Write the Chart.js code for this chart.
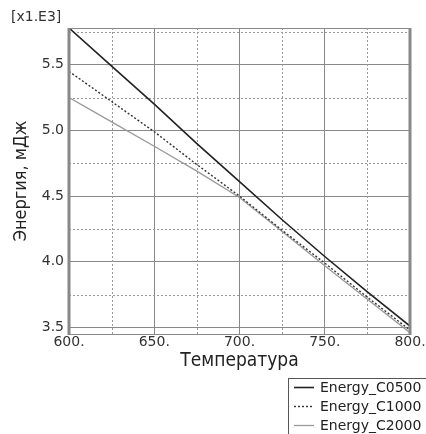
<!DOCTYPE html>
<html>
<head>
<meta charset="utf-8">
<script src="https://cdn.jsdelivr.net/npm/chart.js@4"></script>
<style>
  html, body { margin: 0; padding: 0; background: #fff; }
</style>
</head>
<body>
<canvas id="energy-chart" width="426" height="434"></canvas>
<script>
const temps = [600, 625, 650, 675, 700, 725, 750, 775, 800];
const energyC0500 = [5.78, 5.49, 5.20, 4.90, 4.61, 4.32, 4.04, 3.77, 3.51];
const energyC1000 = [5.45, 5.22, 4.99, 4.74, 4.50, 4.24, 3.99, 3.73, 3.48];
const energyC2000 = [5.25, 5.065, 4.88, 4.69, 4.49, 4.23, 3.97, 3.715, 3.46];
const xTicks = [600, 650, 700, 750, 800];
const yTicks = [3.5, 4.0, 4.5, 5.0, 5.5];
const xMinor = [625, 675, 725, 775];
const yMinor = [3.75, 4.25, 4.75, 5.25, 5.75];

const ctx = document.getElementById('energy-chart');
const font = 'DejaVu Sans';

// dotted minor grid, frame, multiplier label, legend box
const extras = {
    id: 'extras',
    beforeDatasetsDraw(chart) {
        const c = chart.ctx, a = chart.chartArea;
        const x = chart.scales.x, y = chart.scales.y;
        c.save();
        c.strokeStyle = '#999';
        c.lineWidth = 1;
        c.setLineDash([2, 2]);
        xMinor.forEach(v => {
            const px = Math.round(x.getPixelForValue(v)) + 0.5;
            c.beginPath(); c.moveTo(px, a.top); c.lineTo(px, a.bottom); c.stroke();
        });
        yMinor.forEach(v => {
            const py = Math.round(y.getPixelForValue(v)) + 0.5;
            c.beginPath(); c.moveTo(a.left, py); c.lineTo(a.right, py); c.stroke();
        });
        c.restore();
    },
    afterDraw(chart) {
        const c = chart.ctx, a = chart.chartArea;
        c.save();
        c.strokeStyle = '#888';
        c.lineWidth = 1;
        c.strokeRect(a.left + 0.5, a.top + 0.5, a.right - a.left, a.bottom - a.top);
        c.lineWidth = 3;
        c.beginPath(); c.moveTo(a.left, a.top); c.lineTo(a.left, a.bottom + 1); c.stroke();
        c.beginPath(); c.moveTo(a.right, a.top); c.lineTo(a.right, a.bottom + 1); c.stroke();

        c.fillStyle = '#333';
        c.font = '14px ' + font;
        c.textAlign = 'left';
        c.textBaseline = 'middle';
        c.fillText('[x1.E3]', 11, 17);

        // legend
        c.lineWidth = 1;
        c.strokeStyle = '#555';
        c.strokeRect(288.5, 378.5, 160, 70);
        c.font = '14px ' + font;
        chart.data.datasets.forEach((ds, i) => {
            const ly = 387 + i * 19;
            c.strokeStyle = ds.borderColor;
            c.lineWidth = ds.borderWidth;
            c.setLineDash(ds.borderDash || []);
            c.beginPath(); c.moveTo(294, ly + 0.5); c.lineTo(314, ly + 0.5); c.stroke();
            c.setLineDash([]);
            c.fillStyle = '#222';
            c.fillText(ds.label, 320, ly + 1);
        });
        c.restore();
    }
};

new Chart(ctx, {
    type: 'line',
    data: {
        labels: temps,
        datasets: [{
            label: 'Energy_C0500',
            data: energyC0500,
            borderColor: '#222',
            borderWidth: 1.6
        }, {
            label: 'Energy_C1000',
            data: energyC1000,
            borderColor: '#333',
            borderWidth: 1.4,
            borderDash: [2, 2]
        }, {
            label: 'Energy_C2000',
            data: energyC2000,
            borderColor: '#999',
            borderWidth: 1.3
        }]
    },
    options: {
        responsive: false,
        animation: false,
        devicePixelRatio: 1,
        elements: { point: { radius: 0 }, line: { tension: 0 } },
        layout: { padding: { top: 28, left: 11, right: 16, bottom: 62 } },
        plugins: { legend: { display: false }, tooltip: { enabled: false } },
        scales: {
            x: {
                type: 'linear',
                min: 600,
                max: 800,
                afterBuildTicks: s => { s.ticks = xTicks.map(v => ({ value: v })); },
                afterFit: s => { s.height = 38; },
                grid: { color: '#888', lineWidth: 1, drawTicks: false },
                border: { display: false },
                ticks: {
                    color: '#333',
                    font: { family: font, size: 14 },
                    padding: 0,
                    maxRotation: 0,
                    callback: v => v + '.'
                },
                title: {
                    display: true,
                    text: 'Температура',
                    color: '#222',
                    font: { family: 'DejaVu Sans Condensed', size: 19 },
                    padding: 0
                }
            },
            y: {
                min: 3.45,
                max: 5.78,
                afterBuildTicks: s => { s.ticks = yTicks.map(v => ({ value: v })); },
                afterFit: s => { s.width = 58; },
                grid: { color: '#888', lineWidth: 1, drawTicks: false },
                border: { display: false },
                ticks: {
                    color: '#333',
                    font: { family: font, size: 14 },
                    padding: 5,
                    callback: v => v.toFixed(1)
                },
                title: {
                    display: true,
                    text: 'Энергия, мДж',
                    color: '#222',
                    font: { family: 'DejaVu Sans Condensed', size: 18 },
                    padding: 0
                }
            }
        }
    },
    plugins: [extras]
});
</script>
</body>
</html>
